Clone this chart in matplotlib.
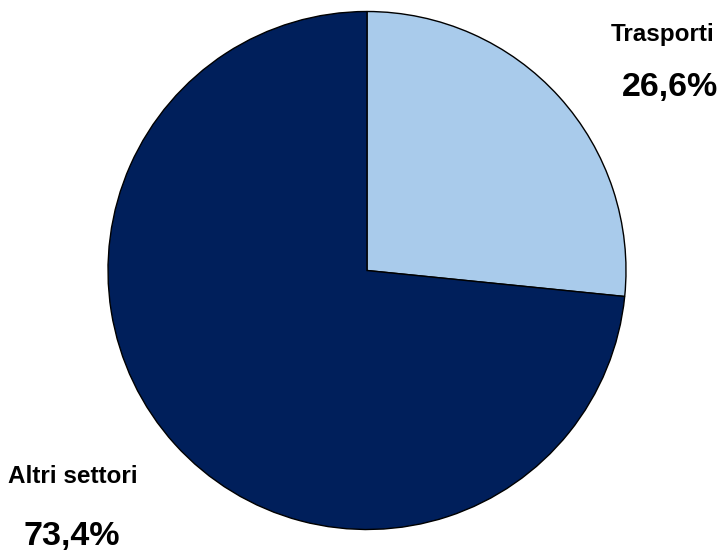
import matplotlib
matplotlib.use('Agg')
from matplotlib import pyplot as plt

# shares of emissions
labels = ['Trasporti', 'Altri settori']
values = [26.6, 73.4]
value_labels = ['26,6%', '73,4%']
colors = ['#A9CBEB', '#001F5B']

plt.rcParams['font.family'] = ['Liberation Sans Narrow', 'Liberation Sans', 'DejaVu Sans']

W, H = 726, 554
my_dpi = 100
fig = plt.figure(figsize=(W/my_dpi, H/my_dpi), dpi=my_dpi)

# pie centre (367, 270), radius 259 px
cx, cy, r = 367, 270.5, 259
ax = fig.add_axes([(cx - r)/W, (H - cy - r)/H, 2*r/W, 2*r/H])
ax.pie(values, colors=colors, startangle=90, counterclock=False,
       wedgeprops=dict(edgecolor='black', linewidth=1.0), radius=1.0)
ax.set_xlim(-1, 1)
ax.set_ylim(-1, 1)
ax.set_aspect('auto')
ax.axis('off')

def ptext(x, y, s, size):
	fig.text(x/W, 1 - y/H, s, ha='center', va='baseline', fontsize=size, fontweight='bold', color='black')

ptext(663, 41, labels[0], 17.5)
ptext(670, 96, value_labels[0], 24.5)
ptext(73, 483, labels[1], 17.5)
ptext(72, 545, value_labels[1], 24.5)

fig.savefig('out.png', dpi=my_dpi)
